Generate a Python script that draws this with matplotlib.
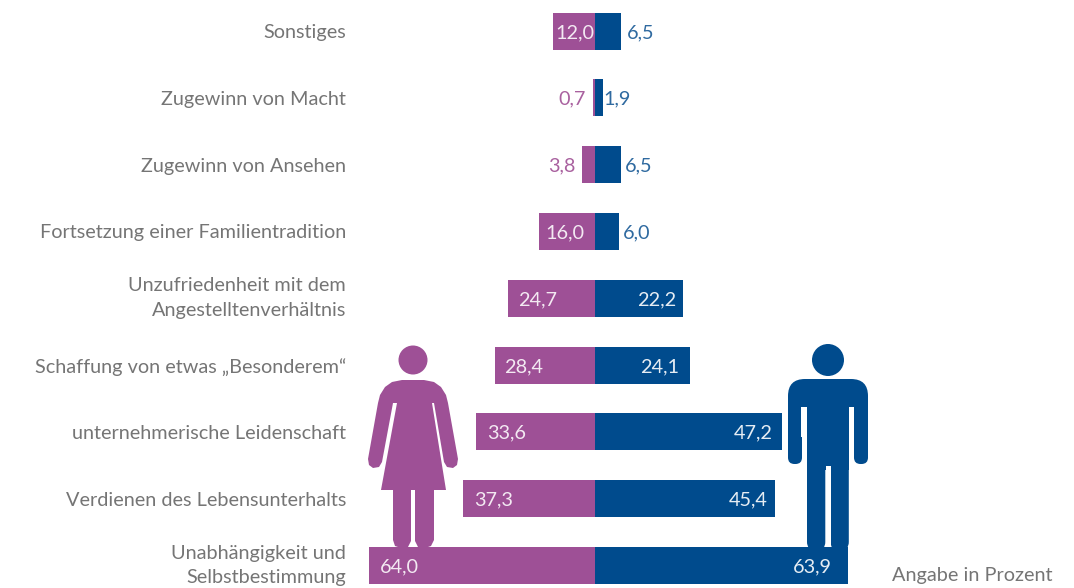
import matplotlib
matplotlib.use("Agg")
import matplotlib.pyplot as plt
from matplotlib.patches import Circle, FancyBboxPatch, Polygon, Rectangle

# rows from top to bottom
categories = [
    "Sonstiges",
    "Zugewinn von Macht",
    "Zugewinn von Ansehen",
    "Fortsetzung einer Familientradition",
    "Unzufriedenheit mit dem\nAngestelltenverhältnis",
    "Schaffung von etwas „Besonderem“",
    "unternehmerische Leidenschaft",
    "Verdienen des Lebensunterhalts",
    "Unabhängigkeit und\nSelbstbestimmung",
]
women = [12.0, 0.7, 3.8, 16.0, 24.7, 28.4, 33.6, 37.3, 64.0]
men = [6.5, 1.9, 6.5, 6.0, 22.2, 24.1, 47.2, 45.4, 63.9]

# label offsets in px from the bar end, positive = outwards
women_pad = [-3, 7, 6, -7, -10, -9, -11, -11, -11]
men_pad = [6, 1, 4, 4, -7, -11, -9, -7, -16]

PURPLE = "#9e5096"
BLUE = "#004b8d"
GREY = "#757575"
FONT = "Lato"
FS = 14.3
W, H = 1074, 588
CENTER = 595
ROW0, ROW_STEP, BAR_H = 31, 66.8, 37


def fmt(v):
    return f"{v:.1f}".replace(".", ",")


plt.rcParams["font.family"] = FONT

fig = plt.figure(figsize=(W / 100, H / 100), dpi=100, facecolor="white")
ax_l = fig.add_axes([369 / W, 0, 226 / W, 1])
ax_r = fig.add_axes([CENTER / W, 0, 253 / W, 1])

rows = list(range(len(categories)))
for ax in (ax_l, ax_r):
    ax.set_ylim((H - ROW0) / ROW_STEP, -ROW0 / ROW_STEP)
    ax.patch.set_visible(False)
    for s in ax.spines.values():
        s.set_visible(False)
    ax.set_xticks([])
ax_l.set_xlim(64.0, 0)
ax_r.set_xlim(0, 63.9)

ax_l.barh(rows, women, height=BAR_H / ROW_STEP, color=PURPLE, linewidth=0)
ax_r.barh(rows, men, height=BAR_H / ROW_STEP, color=BLUE, linewidth=0)

ax_l.set_yticks(rows)
ax_l.set_yticklabels(categories, fontsize=FS, color=GREY, linespacing=1.55)
ax_l.tick_params(axis="y", length=0, pad=16.5)
for lab in ax_l.get_yticklabels():
    if "\n" in lab.get_text():
        lab.set_va("center")
ax_r.set_yticks([])

for i in rows:
    inside = women_pad[i] < 0
    ax_l.annotate(fmt(women[i]), (women[i], i), xytext=(-women_pad[i] * 0.72, -1),
                  textcoords="offset points", va="center", fontsize=FS, zorder=5,
                  ha="left" if inside else "right",
                  color="#f3e9f2" if inside else "#a9619f")
    inside = men_pad[i] < 0
    ax_r.annotate(fmt(men[i]), (men[i], i), xytext=(men_pad[i] * 0.72, -1),
                  textcoords="offset points", va="center", fontsize=FS,
                  ha="right" if inside else "left",
                  color="#e6edf4" if inside else "#2f6aa0")

fig.text(1052 / W, 1 - 576 / H, "Angabe in Prozent", ha="right", va="center",
         fontsize=FS, color=GREY)

# pictograms, drawn on a full figure axes in pixels
pic = fig.add_axes([0, 0, 1, 1])
pic.set_xlim(0, W)
pic.set_ylim(H, 0)
pic.axis("off")

# woman
pic.add_patch(Circle((413, 360), 14.5, color=PURPLE, lw=0))
body = [(402, 380), (424, 380), (434, 382), (441, 387), (446, 395), (448, 403), (458, 459), (457, 465),
        (453, 468), (447, 467), (444, 462), (434, 403), (432, 403), (446, 490),
        (434, 490), (434, 540), (431, 546), (425, 548), (418, 547), (415, 541), (415, 490),
        (411, 490), (411, 541), (408, 547), (401, 548), (395, 546), (393, 540), (393, 490),
        (381, 490), (397, 403), (393, 403), (382, 462), (379, 467), (373, 468), (369, 465),
        (368, 459), (378, 403), (380, 395), (385, 387), (392, 382)]
pic.add_patch(Polygon(body, closed=True, color=PURPLE, lw=0))

# man
pic.add_patch(Circle((828, 360), 16, color=BLUE, lw=0))
pic.add_patch(FancyBboxPatch((788, 379), 80, 50, boxstyle="round,pad=0,rounding_size=17",
                             color=BLUE, lw=0))
for x0 in (788, 854):
    pic.add_patch(FancyBboxPatch((x0, 400), 14, 64, boxstyle="round,pad=0,rounding_size=6.5",
                                 color=BLUE, lw=0))
pic.add_patch(Rectangle((807, 400), 42, 70, color=BLUE, lw=0))
pic.add_patch(Rectangle((801, 407), 6, 30, color="white", lw=0))
pic.add_patch(Rectangle((849, 407), 5, 30, color="white", lw=0))
for x0 in (807, 830.5):
    pic.add_patch(FancyBboxPatch((x0, 440), 18.3, 110, boxstyle="round,pad=0,rounding_size=8",
                                 color=BLUE, lw=0))
pic.add_patch(Rectangle((825.5, 466), 5, 81, color="white", lw=0))

# the figures stand on the bottom bar
ax_l.set_zorder(3)
ax_r.set_zorder(3)
pic.set_zorder(2)

fig.savefig("out.png", dpi=100)
